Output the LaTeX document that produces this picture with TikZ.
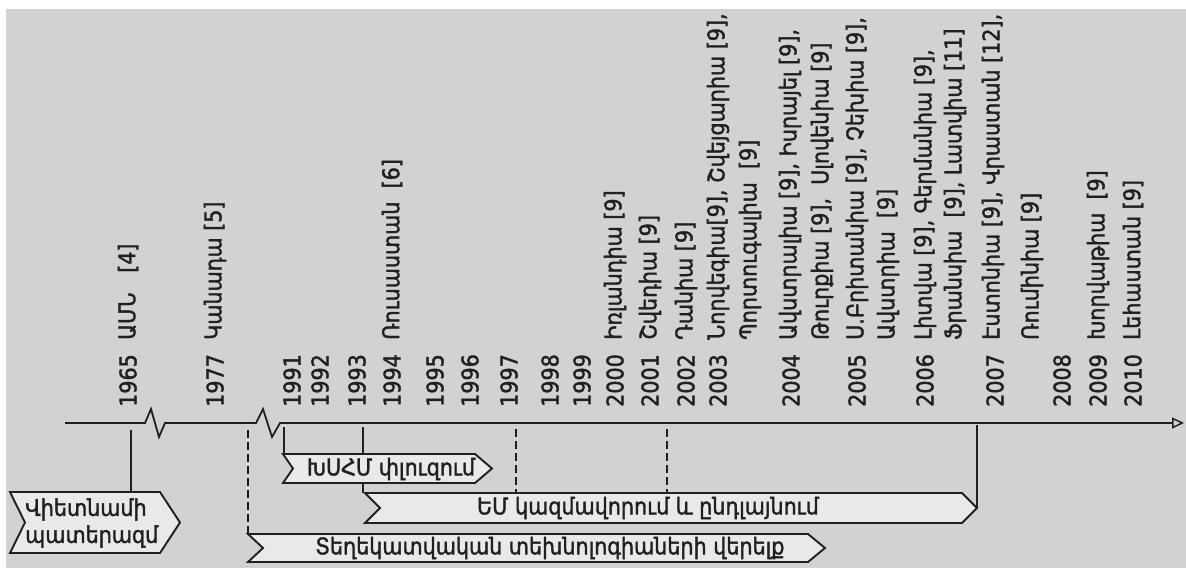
\documentclass[tikz,border=0pt]{standalone}
\usepackage{fontspec}
\setmainfont{DejaVu Sans Condensed}[FakeBold=1.6]
\usetikzlibrary{arrows.meta}
\definecolor{bggray}{HTML}{D1D2D4}
\definecolor{boxgray}{HTML}{E8E9EA}
\definecolor{ink}{HTML}{231F20}
\tikzset{
  bgfill/.style={fill=bggray},
  chevbox/.style={fill=boxgray, draw=ink, line width=1.9pt, line join=miter},
  axisline/.style={draw=ink, line width=1.8pt, -{Triangle[open, length=12pt, width=11pt, line width=1.5pt]}},
  conn/.style={draw=ink, line width=2pt},
  dashconn/.style={draw=ink, line width=2.4pt, dash pattern=on 8pt off 4pt},
  yr/.style={rotate=90, anchor=west, inner sep=0pt, text=ink, font=\fontsize{23}{26}\selectfont},
  ctry/.style={rotate=90, anchor=west, inner sep=0pt, text=ink, font=\fontsize{23}{26}\selectfont},
  boxtext/.style={inner sep=0pt, text=ink, font=\fontsize{23}{27}\selectfont},
}
\begin{document}
\begin{tikzpicture}[x=1pt,y=-1pt]
\useasboundingbox (0,0) rectangle (1186,568);
\fill[bgfill] (6,9) rectangle (1186,568);

% axis
\coordinate (axS) at (65,423);
\coordinate (axE) at (1184,423);
\draw[axisline] (axS) -- (145,423) -- (151,409) -- (159,437) -- (165,423)
  -- (256,423) -- (263,409) -- (272,437) -- (280,423) -- (axE);

% years
\node[yr] (y1965) at (128,407) {1965};
\node[yr] (y1977) at (215,407) {1977};
\node[yr] (y1991) at (292,407) {1991};
\node[yr] (y1992) at (320,407) {1992};
\node[yr] (y1993) at (357,407) {1993};
\node[yr] (y1994) at (392,407) {1994};
\node[yr] (y1995) at (435,407) {1995};
\node[yr] (y1996) at (470,407) {1996};
\node[yr] (y1997) at (509,407) {1997};
\node[yr] (y1998) at (550,407) {1998};
\node[yr] (y1999) at (582,407) {1999};
\node[yr] (y2000) at (615,407) {2000};
\node[yr] (y2001) at (650,407) {2001};
\node[yr] (y2002) at (686,407) {2002};
\node[yr] (y2003) at (718,407) {2003};
\node[yr] (y2004) at (791,407) {2004};
\node[yr] (y2005) at (857,407) {2005};
\node[yr] (y2006) at (925,407) {2006};
\node[yr] (y2007) at (995,407) {2007};
\node[yr] (y2008) at (1062,407) {2008};
\node[yr] (y2009) at (1098,407) {2009};
\node[yr] (y2010) at (1133,407) {2010};

% countries
\node[ctry] (c1) at (128,340) {ԱՄՆ\ \ \ [4]};
\node[ctry] (c2) at (215,340) {Կանադա [5]};
\node[ctry] (c3) at (392,340) {Ռուսաստան\ \ [6]};
\node[ctry] (c4) at (615,340) {Իռլանդիա [9]};
\node[ctry] (c5) at (650,340) {Շվեդիա [9]};
\node[ctry] (c6) at (686,340) {Դանիա [9]};
\node[ctry] (c7) at (718,340) {Նորվեգիա[9], Շվեյցարիա [9],};
\node[ctry] (c8) at (750,340) {Պորտուգալիա\ \ [9]};
\node[ctry] (c9) at (790,340) {Ավստրալիա [9], Իսրայել [9],};
\node[ctry] (c10) at (822,340) {Թուրքիա [9],\ \ Սլովենիա [9]};
\node[ctry] (c11) at (857,340) {Ս.Բրիտանիա [9], Չեխիա [9],};
\node[ctry] (c12) at (888,340) {Ավստրիա\ \ [9]};
\node[ctry] (c13) at (925,340) {Լիտվա [9], Գերմանիա [9],};
\node[ctry] (c14) at (955,340) {Ֆրանսիա\ \ [9], Լատվիա [11]};
\node[ctry] (c15) at (993,340) {Էստոնիա [9], Վրաստան [12],};
\node[ctry] (c16) at (1032,340) {Ռումինիա [9]};
\node[ctry] (c17) at (1098,340) {Խորվաթիա\ \ [9]};
\node[ctry] (c18) at (1133,340) {Լեհաստան [9]};

% tick coordinates and box-top coordinates
\coordinate (t1965) at (131,430);
\coordinate (t1977) at (248,430);
\coordinate (t1991) at (284,427);
\coordinate (t1993) at (363,427);
\coordinate (t1997) at (516,429);
\coordinate (t2002) at (667,429);
\coordinate (t2007) at (977,425);
\coordinate (vietTop) at (131,492);
\coordinate (itTop) at (248,534);
\coordinate (ussrTop) at (284,454);
\coordinate (emTop) at (363,493);
\coordinate (emTop2) at (516,493);
\coordinate (emTop3) at (667,493);
\coordinate (emTip) at (977,508);

% connectors (behind boxes)
\draw[conn] (t1965) -- (vietTop);
\draw[dashconn] (t1977) -- (itTop);
\draw[conn] (t1991) -- (ussrTop);
\draw[conn] (t1993) -- (emTop);
\draw[dashconn] (t1997) -- (emTop2);
\draw[dashconn] (t2002) -- (emTop3);
\draw[conn] (t2007) -- (emTip);

% boxes
\path[chevbox] (10,492) -- (160,492) -- (180,522.5) -- (160,553) -- (10,553) -- (25,522.5) -- cycle;
\path[chevbox] (365,493) -- (962,493) -- (977,508) -- (962,523) -- (365,523) -- (380,508) -- cycle;
\path[chevbox] (283,454) -- (475,454) -- (492,468.5) -- (475,483) -- (283,483) -- (293,468.5) -- cycle;
\path[chevbox] (248,534) -- (808,534) -- (825,548) -- (808,562) -- (248,562) -- (263,548) -- cycle;

% box texts
\node[boxtext, anchor=west, align=left] (viet) at (25,523) {Վիետնամի\\պատերազմ};
\node[boxtext] (ussr) at (391,469) {ԽՍՀՄ փլուզում};
\node[boxtext] (em) at (648,508) {ԵՄ կազմավորում և ընդլայնում};
\node[boxtext] (it) at (550,548) {Տեղեկատվական տեխնոլոգիաների վերելք};
\end{tikzpicture}
\end{document}
